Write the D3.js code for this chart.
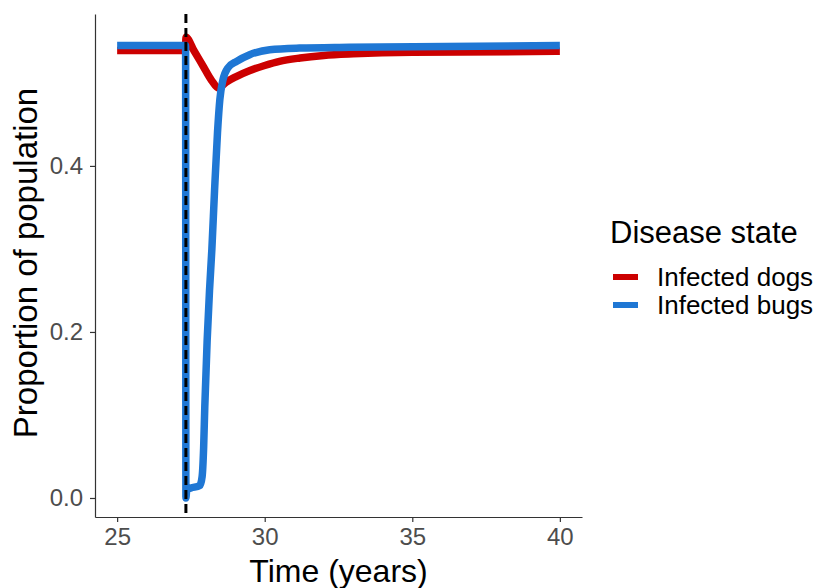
<!DOCTYPE html>
<html>
<head>
<meta charset="utf-8">
<script src="https://cdn.jsdelivr.net/npm/d3@7"></script>
<style>
  body { margin: 0; background: #fff; }
  text { font-family: "Liberation Sans", Arial, sans-serif; }
</style>
</head>
<body>
<div id="chart"></div>
<script>
// values
const interventionYear = 27.33;

const dogsTime  = [25, 27.32, 27.33, 27.6, 27.9, 28.2, 28.43, 28.7, 29.0, 29.5, 30.0, 30.5, 31.2, 32.0, 33.0, 35.0, 40];
const dogsValue = [0.539, 0.539, 0.555, 0.539, 0.521, 0.503, 0.494, 0.501, 0.507, 0.515, 0.521, 0.526, 0.530, 0.533, 0.535, 0.537, 0.538];

const bugsTime  = [25, 27.32, 27.33, 27.36, 27.5, 27.8, 27.88, 27.93, 27.97, 28.05, 28.13, 28.21, 28.3, 28.4, 28.48, 28.58, 28.75, 29.05, 29.49, 30.17, 31.18, 32.87, 40];
const bugsValue = [0.545, 0.545, 0.0, 0.010, 0.012, 0.015, 0.026, 0.060, 0.110, 0.190, 0.250, 0.300, 0.370, 0.440, 0.480, 0.503, 0.518, 0.526, 0.534, 0.540, 0.542, 0.543, 0.545];

const seriesNames  = ['Infected dogs', 'Infected bugs'];
const seriesColors = ['#cc0000', '#1f77d4'];

const xTicks = [25, 30, 35, 40];
const yTicks = [0.0, 0.2, 0.4];

const width = 820, height = 588;
const svg = d3.select('#chart').append('svg')
    .attr('width', width)
    .attr('height', height);

const x = d3.scaleLinear().domain([24.25, 40.75]).range([95, 582]);
const y = d3.scaleLinear().domain([-0.0229, 0.583]).range([517, 14]);

const series = [
    { name: seriesNames[0], color: seriesColors[0], pts: dogsTime.map((t, i) => [t, dogsValue[i]]) },
    { name: seriesNames[1], color: seriesColors[1], pts: bugsTime.map((t, i) => [t, bugsValue[i]]) }
];

const line = d3.line()
    .x(d => x(d[0]))
    .y(d => y(d[1]))
    .curve(d3.curveMonotoneX);

series.forEach(s => {
    svg.append('path')
        .attr('d', line(s.pts))
        .attr('fill', 'none')
        .attr('stroke', s.color)
        .attr('stroke-width', 7.5)
        .attr('stroke-linejoin', 'round');
});

// intervention line
svg.append('line')
    .attr('x1', x(interventionYear)).attr('x2', x(interventionYear))
    .attr('y1', 14).attr('y2', 517)
    .attr('stroke', '#000')
    .attr('stroke-width', 3)
    .attr('stroke-dasharray', '9,5');

// axes
const xAxis = svg.append('g')
    .attr('transform', 'translate(0,517)')
    .call(d3.axisBottom(x).tickValues(xTicks).tickSize(5).tickSizeOuter(0).tickFormat(d3.format('d')));
const yAxis = svg.append('g')
    .attr('transform', 'translate(95,0)')
    .call(d3.axisLeft(y).tickValues(yTicks).tickSize(5).tickSizeOuter(0).tickFormat(d3.format('.1f')));

[xAxis, yAxis].forEach(g => {
    g.select('.domain').attr('stroke', '#333').attr('stroke-width', 1.2);
    g.selectAll('.tick line').attr('stroke', '#333').attr('stroke-width', 1.2);
    g.selectAll('.tick text')
        .attr('fill', '#4d4d4d')
        .style('font-size', '24px')
        .style('font-family', '"Liberation Sans", Arial, sans-serif');
});
xAxis.selectAll('.tick text').attr('dy', null).attr('y', 28);
yAxis.selectAll('.tick text').attr('x', -12);

// axis titles
svg.append('text')
    .attr('x', x(32.5))
    .attr('y', 582)
    .attr('text-anchor', 'middle')
    .style('font-size', '32px')
    .text('Time (years)');

svg.append('text')
    .attr('transform', 'translate(37,263) rotate(-90)')
    .attr('text-anchor', 'middle')
    .style('font-size', '33px')
    .text('Proportion of population');

// legend
const legend = svg.append('g').attr('transform', 'translate(610,0)');
legend.append('text')
    .attr('x', 0).attr('y', 243)
    .style('font-size', '31px')
    .text('Disease state');

series.forEach((s, i) => {
    const cy = 277 + i * 28;
    legend.append('line')
        .attr('x1', 3).attr('x2', 28)
        .attr('y1', cy).attr('y2', cy)
        .attr('stroke', s.color)
        .attr('stroke-width', 6);
    legend.append('text')
        .attr('x', 47).attr('y', cy + 9)
        .style('font-size', '26px')
        .text(s.name);
});
</script>
</body>
</html>
